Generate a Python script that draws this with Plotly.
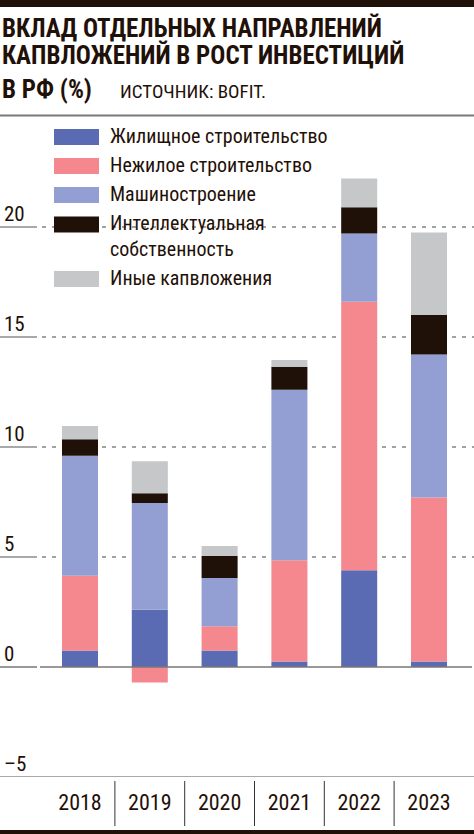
import plotly.graph_objects as go

# values (percentage points)
years = ["2018", "2019", "2020", "2021", "2022", "2023"]
housing = [0.75, 2.6, 0.75, 0.25, 4.4, 0.25]
non_residential = [3.4, -0.7, 1.1, 4.6, 12.2, 7.45]
machinery = [5.45, 4.85, 2.2, 7.75, 3.1, 6.5]
intellectual = [0.75, 0.45, 1.0, 1.05, 1.2, 1.8]
other = [0.6, 1.45, 0.45, 0.3, 1.3, 3.75]

series_names = ["Жилищное строительство", "Нежилое строительство", "Машиностроение",
                "Интеллектуальная<br>собственность", "Иные капвложения"]
series_values = [housing, non_residential, machinery, intellectual, other]
colors = ["#5b6bb3", "#f5888f", "#939fd2", "#1f1008", "#c6c7c9"]

y_ticks = [20, 15, 10, 5, 0, -5]
y_tick_text = ["20", "15", "10", "5", "0", "–5"]

W, H = 474, 834
TOP, BOTTOM = 116, 777      # plot area in pixels
FONT = "Roboto Condensed, Liberation Sans Narrow, DejaVu Sans Condensed, Roboto, sans-serif"


def py(p):
    # pixel row -> paper coordinate
    return (BOTTOM - p) / (BOTTOM - TOP)


def px(p):
    return p / W


fig = go.Figure()
for name, vals, col in zip(series_names, series_values, colors):
    fig.add_trace(go.Bar(x=years, y=vals, name=name, marker=dict(color=col, line=dict(width=0)),
                         width=0.516, showlegend=False))

shapes = []
# top / bottom black bands and grey rule under the title
shapes.append(dict(type="rect", xref="paper", yref="paper", x0=0, x1=1, y0=py(7), y1=py(-5),
                   fillcolor="#1f1008", line=dict(width=0)))
shapes.append(dict(type="rect", xref="paper", yref="paper", x0=0, x1=1, y0=py(840), y1=py(830),
                   fillcolor="#1f1008", line=dict(width=0)))
shapes.append(dict(type="line", xref="paper", yref="paper", x0=0, x1=1, y0=py(115.5), y1=py(115.5),
                   line=dict(color="#7a7776", width=2)))

for t in y_ticks:
    if t in (0, -5):
        continue
    shapes.append(dict(type="line", xref="paper", yref="y", x0=0, x1=px(37), y0=t, y1=t,
                       line=dict(color="#555", width=1.2)))
    shapes.append(dict(type="line", xref="paper", yref="y", x0=px(42), x1=1, y0=t, y1=t,
                       line=dict(color="#444", width=1.2, dash="4px,6px"), layer="below"))
# zero line
shapes.append(dict(type="line", xref="paper", yref="y", x0=0, x1=px(37), y0=0, y1=0,
                   line=dict(color="#7a7776", width=1.5)))
shapes.append(dict(type="line", xref="paper", yref="y", x0=px(40), x1=px(472), y0=0, y1=0,
                   line=dict(color="#7a7776", width=1.5)))
# bottom axis line at -5
shapes.append(dict(type="line", xref="paper", yref="y", x0=0, x1=1, y0=-5, y1=-5,
                   line=dict(color="#555", width=1.2)))
# separators between the year labels
for i in range(len(years) - 1):
    shapes.append(dict(type="line", xref="x", yref="paper", x0=i + 0.5, x1=i + 0.5,
                       y0=py(781), y1=py(826), line=dict(color="#333", width=1)))

annotations = []
for t, lab in zip(y_ticks, y_tick_text):
    annotations.append(dict(text=lab, xref="paper", yref="y", x=px(2), y=t, xanchor="left",
                            yanchor="bottom", showarrow=False, yshift=-1,
                            font=dict(family=FONT, size=21, color="#1f1008")))

# title
title_lines = ["ВКЛАД ОТДЕЛЬНЫХ НАПРАВЛЕНИЙ", "КАПВЛОЖЕНИЙ В РОСТ ИНВЕСТИЦИЙ", "В РФ (%)"]
title_y = [28, 55, 89]
for line, yy in zip(title_lines, title_y):
    annotations.append(dict(text="<b>" + line + "</b>", xref="paper", yref="paper", x=px(0), y=py(yy),
                            xanchor="left", yanchor="middle", showarrow=False,
                            font=dict(family=FONT, size=25, color="#1f1008")))
annotations.append(dict(text="ИСТОЧНИК: BOFIT.", xref="paper", yref="paper", x=px(118), y=py(91),
                        xanchor="left", yanchor="middle", showarrow=False,
                        font=dict(family=FONT, size=19, color="#1f1008")))

# legend drawn by hand: swatch + label
legend_rows = [137, 166, 195, 224.5, 279]
legend_text_y = [136, 165, 194, 236, 278]
for name, col, ry, ty in zip(series_names, colors, legend_rows, legend_text_y):
    shapes.append(dict(type="rect", xref="paper", yref="paper", x0=px(54), x1=px(99),
                       y0=py(ry + 8), y1=py(ry - 8), fillcolor=col, line=dict(width=0)))
    annotations.append(dict(text=name, xref="paper", yref="paper", x=px(108), y=py(ty),
                            xanchor="left", yanchor="middle", align="left", showarrow=False,
                            font=dict(family=FONT, size=20, color="#1f1008")))

x_lo = -80 / 69.8
x_hi = (W - 80) / 69.8
fig.update_layout(
    width=W, height=H,
    margin=dict(l=0, r=0, t=TOP, b=H - BOTTOM),
    barmode="relative",
    plot_bgcolor="white", paper_bgcolor="white",
    shapes=shapes, annotations=annotations,
    xaxis=dict(range=[x_lo, x_hi], showgrid=False, zeroline=False, showline=False, ticks="",
               tickfont=dict(family=FONT, size=22, color="#1f1008"), ticklabelstandoff=10,
               fixedrange=True),
    yaxis=dict(range=[-5, -5 + (BOTTOM - TOP) / 22], showgrid=False, zeroline=False,
               showticklabels=False, showline=False, fixedrange=True),
    font=dict(family=FONT),
)

# the page's default body margin would shift the figure by 8px
fig.write_html("out.html", config=dict(displayModeBar=False),
               post_script="document.body.style.margin='0';document.body.style.overflow='hidden';")
